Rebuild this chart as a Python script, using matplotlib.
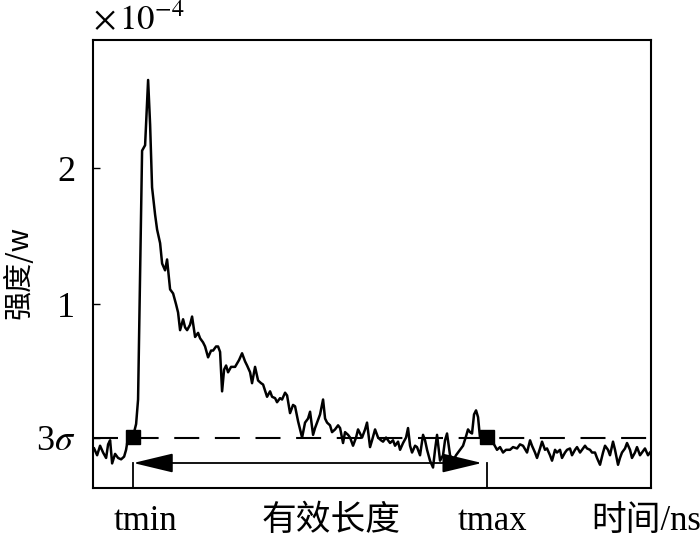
import numpy as np
import matplotlib
matplotlib.use("Agg")
import matplotlib.pyplot as plt
from matplotlib.patches import FancyArrowPatch

plt.rcParams['font.family'] = ['Liberation Serif', 'Noto Sans CJK SC']
plt.rcParams['mathtext.fontset'] = 'stix'

# time (arbitrary ns scale, 0..100) and intensity (x 1e-4 W)
t = [0.18, 0.72, 1.25, 1.79, 2.33, 2.69, 3.05, 3.41, 3.94, 4.48, 5.02, 5.56, 5.91, 6.27,
     6.81, 7.35, 7.71, 8.06, 8.78, 9.32, 9.86, 10.22, 10.57, 11.11, 11.47, 12.01, 12.37,
     12.90, 13.26, 13.80, 14.34, 14.87, 15.23, 15.59, 16.13, 16.49, 16.85, 17.38, 17.74,
     18.28, 18.82, 19.18, 19.71, 20.07, 20.61, 21.15, 21.51, 22.04, 22.40, 22.76, 23.12,
     23.48, 23.84, 24.19, 24.73, 25.45, 26.16, 26.70, 27.24, 27.60, 28.14, 28.49, 29.03,
     29.57, 30.11, 30.47, 31.18, 31.72, 32.08, 32.62, 32.97, 33.51, 33.87, 34.41, 34.77,
     35.30, 35.84, 36.20, 36.74, 37.10, 37.46, 37.99, 38.53, 38.89, 39.43, 39.78, 40.14,
     40.68, 41.22, 41.58, 41.94, 42.47, 42.83, 43.37, 43.91, 44.27, 44.80, 45.16, 45.70,
     46.06, 46.59, 47.13, 47.49, 47.85, 48.21, 48.75, 49.10, 49.64, 50.00, 50.54, 51.08,
     51.61, 51.97, 52.51, 52.87, 53.23, 53.76, 54.12, 54.66, 55.02, 55.56, 56.09, 56.45,
     56.81, 57.17, 57.71, 58.06, 58.60, 59.14, 59.50, 59.86, 60.39, 60.93, 61.29, 61.65,
     62.19, 62.72, 63.08, 63.44, 63.98, 64.52, 65.05, 65.41, 65.95, 66.31, 66.85, 67.20,
     67.56, 67.92, 68.28, 68.64, 69.00, 69.35, 69.89, 70.43, 70.79, 71.33, 71.86, 72.40,
     72.94, 73.48, 74.01, 74.73, 75.27, 75.99, 76.52, 77.06, 77.78, 78.32, 78.67, 79.21,
     79.57, 80.11, 80.47, 81.00, 81.36, 81.90, 82.26, 82.80, 83.15, 83.69, 84.05, 84.59,
     84.95, 85.48, 85.84, 86.38, 86.74, 87.28, 87.63, 88.17, 88.53, 89.07, 89.43, 89.96,
     90.32, 90.86, 91.40, 91.76, 92.29, 92.65, 93.19, 93.55, 94.09, 94.44, 94.80, 95.34,
     95.70, 96.24, 96.59, 97.13, 97.49, 98.03, 98.39, 98.92, 99.46, 99.82]
inten = [-0.06, -0.11, -0.04, -0.09, -0.13, -0.03, 0.00, -0.17, -0.10, -0.13, -0.14, -0.12,
         -0.07, 0.02, 0.05, 0.06, 0.12, 0.30, 2.13, 2.17, 2.65, 2.32, 1.86, 1.66, 1.55, 1.45,
         1.30, 1.25, 1.33, 1.11, 1.08, 1.00, 0.94, 0.81, 0.89, 0.83, 0.81, 0.85, 0.91, 0.76,
         0.79, 0.75, 0.72, 0.69, 0.61, 0.66, 0.66, 0.69, 0.69, 0.65, 0.36, 0.52, 0.55, 0.50,
         0.54, 0.54, 0.59, 0.64, 0.58, 0.55, 0.50, 0.42, 0.54, 0.44, 0.42, 0.41, 0.32, 0.36,
         0.32, 0.31, 0.28, 0.31, 0.30, 0.35, 0.33, 0.20, 0.26, 0.25, 0.14, 0.08, 0.02, 0.13,
         0.16, 0.21, 0.04, 0.09, 0.13, 0.19, 0.30, 0.16, 0.13, 0.11, 0.06, 0.08, 0.11, 0.09,
         -0.02, 0.06, 0.04, 0.02, -0.04, 0.02, 0.08, 0.05, 0.02, 0.08, 0.13, -0.05, 0.00,
         0.08, 0.02, 0.00, -0.01, 0.02, 0.00, -0.02, 0.00, -0.04, -0.01, -0.07, -0.02, 0.02,
         0.09, -0.04, -0.09, -0.04, -0.05, -0.11, 0.04, 0.00, -0.07, -0.15, -0.20, -0.07,
         0.04, -0.15, -0.11, 0.00, 0.05, -0.11, -0.15, -0.11, -0.09, -0.06, -0.04, 0.03,
         0.08, 0.06, 0.05, 0.19, 0.22, 0.17, 0.02, 0.06, 0.00, 0.05, 0.02, -0.03, -0.07,
         -0.05, -0.09, -0.07, -0.07, -0.05, -0.06, -0.03, -0.04, -0.09, 0.00, -0.04, -0.09,
         -0.13, -0.06, -0.01, -0.07, -0.06, -0.11, -0.15, -0.07, -0.09, -0.07, -0.13, -0.09,
         -0.07, -0.06, -0.11, -0.07, -0.05, -0.09, -0.07, -0.04, -0.06, -0.07, -0.09, -0.09,
         -0.13, -0.18, -0.09, -0.04, -0.07, -0.11, -0.01, -0.07, -0.18, -0.13, -0.09, -0.06,
         -0.02, -0.07, -0.13, -0.09, -0.05, -0.11, -0.09, -0.06, -0.11, -0.09]

sigma3 = 0.017          # 3 sigma threshold
t_min, t_max = 7.2, 70.6
arrow_y = -0.167

ytick_pos = [sigma3, 1, 2]
ytick_lab = [r'3$\sigma$', '1', '2']
xlab_pos = [9.3, 42.7, 71.5, 99.1]
xlab_txt = ['tmin', '有效长度', 'tmax', '时间/ns']

fig = plt.figure(figsize=(7, 5.42), dpi=100)
ax = fig.add_axes([0.133, 0.0996, 0.797, 0.8266])

ax.plot(t, inten, color='black', lw=1.8)
hl = ax.axhline(sigma3, color='black', lw=1.5)
hl.set_dashes((12, 7.5))
ax.plot([t_min, t_max], [0.024, 0.024], 's', color='black', ms=10)

# tmin / tmax markers and the double arrow
ax.plot([t_min, t_min], [arrow_y, -0.351], color='black', lw=1.3)
ax.plot([t_max, t_max], [arrow_y, -0.351], color='black', lw=1.3)
arr = FancyArrowPatch((t_min, arrow_y), (t_max - 0.9, arrow_y),
                      arrowstyle='<|-|>,head_length=25,head_width=6',
                      mutation_scale=1, color='black', lw=1.3,
                      shrinkA=0, shrinkB=0)
ax.add_patch(arr)

ax.set_xlim(0, 100)
ax.set_ylim(-0.351, 2.944)
ax.set_yticks(ytick_pos)
ax.set_yticklabels(ytick_lab, fontsize=26)
ax.tick_params(axis='y', direction='in', length=5, width=1, pad=13)
ax.set_xticks(xlab_pos)
ax.set_xticklabels(xlab_txt, fontsize=25)
ax.tick_params(axis='x', length=0, pad=12)
for s in ax.spines.values():
    s.set_linewidth(1.5)

ax.set_ylabel('强度/w', fontsize=21, family=['Noto Sans CJK SC'])
ax.yaxis.set_label_coords(-0.105, 0.48)
ax.text(0.0, 1.005, r'$\times\,10^{-4}$', transform=ax.transAxes, fontsize=25,
        ha='left', va='bottom')

fig.savefig('out.png', dpi=100)
